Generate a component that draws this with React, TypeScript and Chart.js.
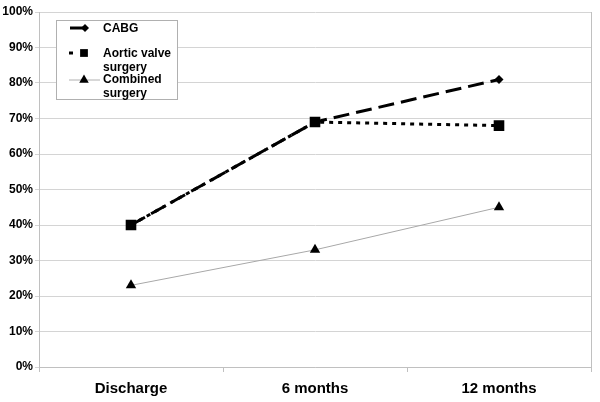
import React, { useEffect, useRef } from "react";
import { Chart, registerables } from "chart.js";

Chart.register(...registerables);

const categories = ["Discharge", "6 months", "12 months"];
const cabg = [40, 69, 81];
const aortic = [40, 69, 68];
const combined = [23, 33, 45];
const seriesNames = ["CABG", ["Aortic valve", "surgery"], ["Combined", "surgery"]];

const FONT = "'Liberation Sans', Arial, sans-serif";

function drawMarker(ctx: CanvasRenderingContext2D, style: string, x: number, y: number, r: number) {
  ctx.beginPath();
  if (style === "rect") {
    const s = Math.SQRT1_2 * r;
    ctx.rect(x - s, y - s, 2 * s, 2 * s);
  } else if (style === "rectRot") {
    ctx.moveTo(x, y - r);
    ctx.lineTo(x + r, y);
    ctx.lineTo(x, y + r);
    ctx.lineTo(x - r, y);
    ctx.closePath();
  } else if (style === "triangle") {
    ctx.moveTo(x, y - r);
    ctx.lineTo(x + r * 0.866, y + r * 0.5);
    ctx.lineTo(x - r * 0.866, y + r * 0.5);
    ctx.closePath();
  }
  ctx.fillStyle = "#000";
  ctx.fill();
}

const overlayPlugin = {
  id: "overlay",
  afterDraw(chart: any) {
    const ctx: CanvasRenderingContext2D = chart.ctx;
    const area = chart.chartArea;
    ctx.save();
    // right border of plot area
    ctx.strokeStyle = "#c0c0c0";
    ctx.lineWidth = 1;
    ctx.beginPath();
    ctx.moveTo(Math.round(area.right) + 0.5, area.top);
    ctx.lineTo(Math.round(area.right) + 0.5, area.bottom);
    ctx.stroke();

    // legend box
    const bx = 56.5, by = 20.5, bw = 121, bh = 79;
    ctx.fillStyle = "#fff";
    ctx.fillRect(bx, by, bw, bh);
    ctx.strokeStyle = "#b0b0b0";
    ctx.strokeRect(bx, by, bw, bh);

    const items = [
      { y: 28, lineFrom: 70, lineTo: 90, dash: [16, 7], width: 3, color: "#000", marker: "rectRot", mx: 85, r: 4, texts: [29] },
      { y: 53, lineFrom: 69, lineTo: 77, dash: [4, 5], width: 3, color: "#000", marker: "rect", mx: 84, r: 5.5, texts: [54, 68] },
      { y: 80, lineFrom: 69, lineTo: 100, dash: [], width: 1, color: "#b0b0b0", marker: "triangle", mx: 84, r: 5.5, texts: [80, 94] },
    ];
    items.forEach((it, i) => {
      ctx.strokeStyle = it.color;
      ctx.lineWidth = it.width;
      ctx.setLineDash(it.dash);
      ctx.beginPath();
      ctx.moveTo(it.lineFrom, it.y);
      ctx.lineTo(it.lineTo, it.y);
      ctx.stroke();
      ctx.setLineDash([]);
      drawMarker(ctx, it.marker, it.mx, it.y, it.r);
      const name = seriesNames[i];
      const lines = Array.isArray(name) ? name : [name];
      ctx.fillStyle = "#000";
      ctx.font = `bold 12px ${FONT}`;
      ctx.textBaseline = "middle";
      ctx.textAlign = "left";
      lines.forEach((t, j) => ctx.fillText(t, 103, it.texts[j]));
    });
    ctx.restore();
  },
};

export default function App() {
  const ref = useRef<HTMLCanvasElement>(null);
  useEffect(() => {
    if (!ref.current) return;
    const chart = new Chart(ref.current, {
      type: "line",
      data: {
        labels: categories,
        datasets: [
          {
            label: "Combined surgery",
            data: combined,
            borderColor: "#a8a8a8",
            borderWidth: 1,
            pointStyle: "triangle",
            pointRadius: 6,
            pointBackgroundColor: "#000",
            pointBorderColor: "#000",
            pointBorderWidth: 0,
            fill: false,
            tension: 0,
          },
          {
            label: "CABG",
            data: cabg,
            borderColor: "#000",
            borderWidth: 3,
            borderDash: [16, 7],
            pointStyle: "rectRot",
            pointRadius: 4.5,
            pointBackgroundColor: "#000",
            pointBorderColor: "#000",
            pointBorderWidth: 0,
            fill: false,
            tension: 0,
          },
          {
            label: "Aortic valve surgery",
            data: aortic,
            borderColor: "#000",
            borderWidth: 3,
            borderDash: [4, 5],
            pointStyle: "rect",
            pointRadius: 7.5,
            pointBackgroundColor: "#000",
            pointBorderColor: "#000",
            pointBorderWidth: 0,
            fill: false,
            tension: 0,
          },
        ],
      },
      options: {
        animation: false,
        responsive: false,
        maintainAspectRatio: false,
        layout: { padding: { top: 12, right: 9, left: 0, bottom: 0 } },
        plugins: {
          legend: { display: false },
          tooltip: { enabled: false },
          title: { display: false },
        },
        scales: {
          x: {
            type: "category",
            offset: true,
            afterFit: (s: any) => { s.height = 35; },
            grid: {
              display: true,
              drawOnChartArea: false,
              drawTicks: true,
              tickLength: 5,
              color: "#c0c0c0",
              offset: true,
            },
            border: { display: true, color: "#c0c0c0" },
            ticks: {
              color: "#000",
              padding: 8,
              font: { family: FONT, size: 15, weight: "bold" },
              maxRotation: 0,
            },
          },
          y: {
            min: 0,
            max: 100,
            afterFit: (s: any) => { s.width = 39; },
            grid: {
              color: "#d4d4d4",
              tickLength: 4,
              drawTicks: true,
            },
            border: { display: true, color: "#c0c0c0" },
            ticks: {
              stepSize: 10,
              color: "#000",
              padding: 2,
              font: { family: FONT, size: 12, weight: "bold" },
              callback: (v: any) => `${v}%`,
            },
          },
        },
      },
      plugins: [overlayPlugin],
    });
    return () => chart.destroy();
  }, []);
  return (
    <div style={{ position: "absolute", left: 0, top: 0, width: 600, height: 402, background: "#fff" }}>
      <canvas ref={ref} width={600} height={402} style={{ display: "block", width: 600, height: 402 }} />
    </div>
  );
}
